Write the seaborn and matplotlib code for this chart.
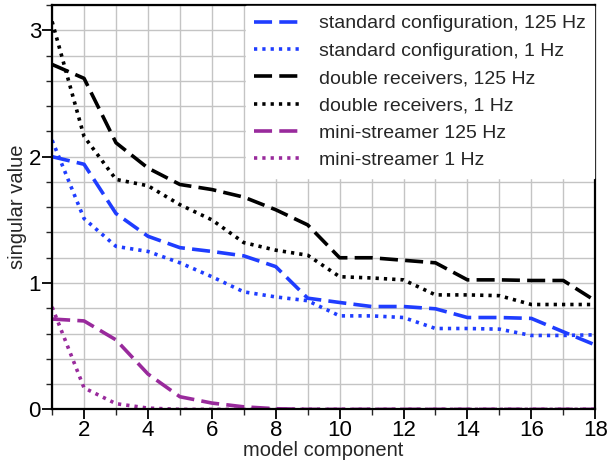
import numpy as np
import pandas as pd
import matplotlib
matplotlib.use("Agg")
import matplotlib.pyplot as plt
from matplotlib.ticker import MultipleLocator
import seaborn as sns

# model component index
components = list(range(1, 19))

std_125 = [2.00, 1.94, 1.55, 1.37, 1.28, 1.25, 1.215, 1.13, 0.88, 0.846,
           0.814, 0.814, 0.796, 0.727, 0.727, 0.72, 0.614, 0.51]
std_1 = [2.13, 1.51, 1.29, 1.25, 1.16, 1.05, 0.93, 0.89, 0.86, 0.74,
         0.74, 0.727, 0.64, 0.64, 0.635, 0.585, 0.585, 0.59]
dbl_125 = [2.73, 2.62, 2.11, 1.91, 1.78, 1.74, 1.68, 1.58, 1.46, 1.20,
           1.20, 1.18, 1.16, 1.025, 1.025, 1.02, 1.02, 0.86]
dbl_1 = [3.07, 2.16, 1.82, 1.77, 1.62, 1.50, 1.32, 1.26, 1.22, 1.05,
         1.04, 1.025, 0.906, 0.906, 0.90, 0.83, 0.83, 0.83]
mini_125 = [0.715, 0.70, 0.55, 0.28, 0.10, 0.05, 0.02, 0.005, 0.0, 0.0,
            0.0, 0.0, 0.0, 0.0, 0.0, 0.0, 0.0, 0.0]
mini_1 = [0.81, 0.17, 0.045, 0.01, 0.0, 0.0, 0.0, 0.0, 0.0, 0.0,
          0.0, 0.0, 0.0, 0.0, 0.0, 0.0, 0.0, 0.0]

labels = ["standard configuration, 125 Hz", "standard configuration, 1 Hz",
          "double receivers, 125 Hz", "double receivers, 1 Hz",
          "mini-streamer 125 Hz", "mini-streamer 1 Hz"]
series = [std_125, std_1, dbl_125, dbl_1, mini_125, mini_1]

blue = "#1f3dff"
purple = "#992a9c"
colors = [blue, blue, "black", "black", purple, purple]
dash_long = (5, 2)
dot = (0.9, 1.4)
dash_styles = [dash_long, dot, dash_long, dot, dash_long, dot]

df = pd.concat([pd.DataFrame({"component": components, "value": s, "config": lab})
                for s, lab in zip(series, labels)], ignore_index=True)

sns.set_style("white")
plt.rcParams["font.family"] = ["Liberation Sans", "DejaVu Sans"]

fig = plt.figure(figsize=(6.13, 4.61), dpi=100)
ax = fig.add_axes([0.085, 0.112, 0.886, 0.877])

sns.lineplot(data=df, x="component", y="value", hue="config", style="config",
             hue_order=labels, style_order=labels,
             palette=dict(zip(labels, colors)),
             dashes=dict(zip(labels, dash_styles)),
             linewidth=2.6, ax=ax)

ax.set_xlim(1, 18)
ax.set_ylim(0, 3.2)
ax.xaxis.set_major_locator(MultipleLocator(2))
ax.xaxis.set_minor_locator(MultipleLocator(1))
ax.yaxis.set_major_locator(MultipleLocator(1))
ax.yaxis.set_minor_locator(MultipleLocator(0.2))
ax.grid(True, which="both", color="#c4c4c4", linewidth=1.0)
ax.set_axisbelow(True)
ax.tick_params(which="major", direction="out", length=7, width=1.3,
               labelsize=16, colors="black", pad=1)
ax.tick_params(which="minor", direction="out", length=4, width=1.0)
ax.tick_params(axis="both", which="both", bottom=True, left=True)
for sp in ax.spines.values():
    sp.set_visible(True)
    sp.set_color("black")
    sp.set_linewidth(1.6)

ax.set_xlabel("model component", fontsize=14.5, labelpad=0)
ax.set_ylabel("singular value", fontsize=14.5, labelpad=1)

leg = ax.legend(loc="upper right", fontsize=14, frameon=True, fancybox=False,
                handlelength=2.5, borderaxespad=0.05, labelspacing=0.5,
                handletextpad=0.8, borderpad=0.45)
leg.get_frame().set_edgecolor("white")
leg.get_frame().set_alpha(1.0)

fig.savefig("out.png", dpi=100)
